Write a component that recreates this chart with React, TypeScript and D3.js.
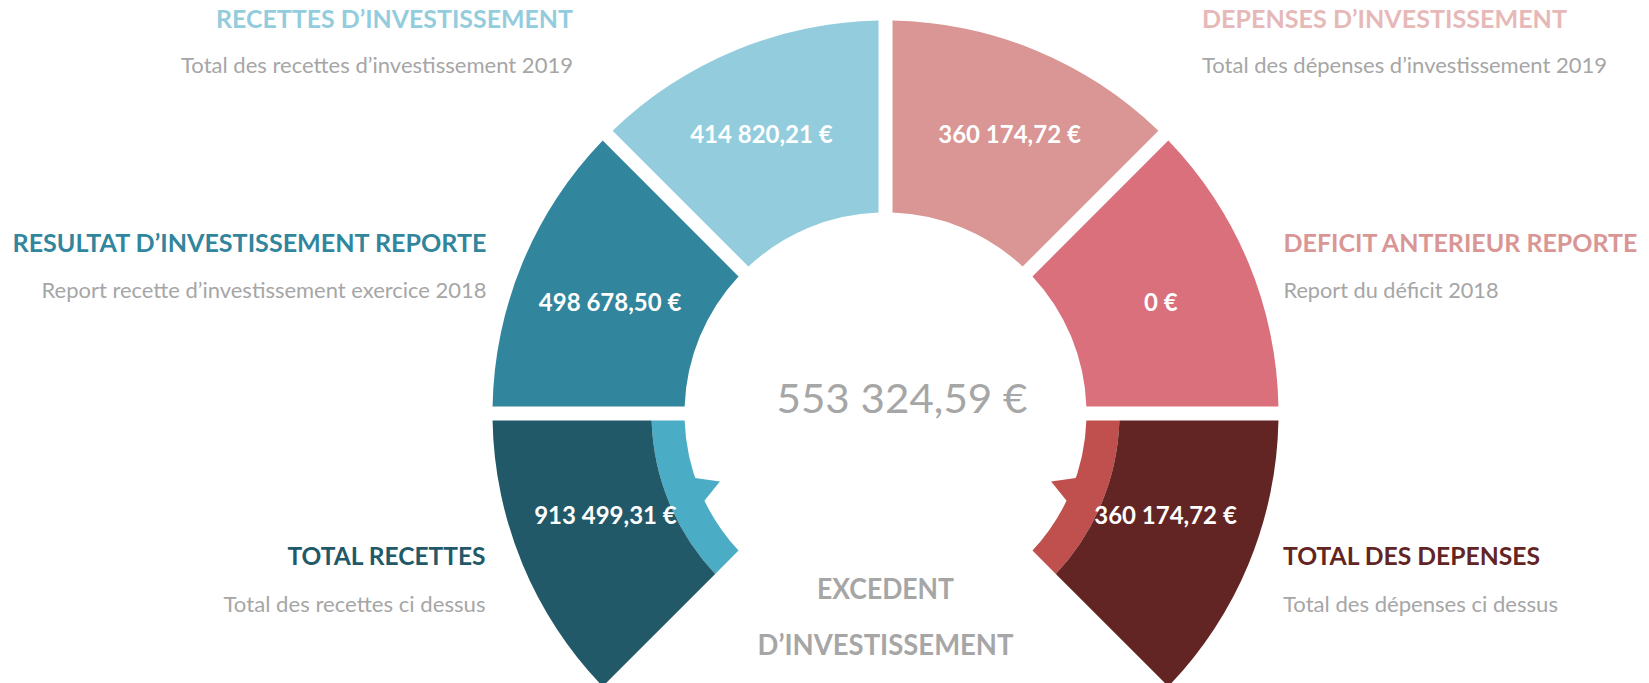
import React from "react";
import * as d3 from "d3";

// ---------- data ----------
const upperNames = [
  "RESULTAT D’INVESTISSEMENT REPORTE",
  "RECETTES D’INVESTISSEMENT",
  "DEPENSES D’INVESTISSEMENT",
  "DEFICIT ANTERIEUR REPORTE",
];
const upperNotes = [
  "Report recette d’investissement exercice 2018",
  "Total des recettes d’investissement 2019",
  "Total des dépenses d’investissement 2019",
  "Report du déficit 2018",
];
const upperValues = [498678.5, 414820.21, 360174.72, 0];

const totalNames = ["TOTAL RECETTES", "TOTAL DES DEPENSES"];
const totalNotes = ["Total des recettes ci dessus", "Total des dépenses ci dessus"];
const totalValues = [913499.31, 360174.72];

const resultLines = ["EXCEDENT", "D’INVESTISSEMENT"];
const resultValue = 553324.59;

// ---------- styles ----------
const upperFill = ["#31859C", "#93CDDD", "#D99694", "#D9707C"];
const upperTitleColor = ["#31859C", "#93CDDD", "#E6B9B8", "#D99694"];
const totalFill = ["#215968", "#632523"];
const bandFill = ["#4BACC6", "#C0504D"];
const grey = "#A6A6A6";
const FONT = "Lato, 'Open Sans', sans-serif";

const W = 1649;
const H = 683;
const cx = 885.5;
const cy = 413.5;
const R = 393;
const r0 = 201;
const rMid = 234;

const fr = d3.formatLocale({
  decimal: ",",
  thousands: "\u00a0",
  grouping: [3],
  currency: ["", "\u00a0€"],
});
const fmt = (v: number) =>
  (Number.isInteger(v) ? fr.format("$,d")(v) : fr.format("$,.2f")(v));

const deg = Math.PI / 180;

export default function App() {
  const upperAngle = d3.scaleLinear().domain([0, upperValues.length]).range([-Math.PI / 2, Math.PI / 2]);
  // lower segments: left (225°..270°), right (90°..135°)
  const lowerStart = [225 * deg, 90 * deg];
  const lowerEnd = [270 * deg, 135 * deg];

  const pad = 2 * Math.asin(7 / R);
  const arc = d3.arc<any>().padRadius(R).padAngle(pad);

  const polar = (a: number, r: number): [number, number] => [
    cx + r * Math.sin(a),
    cy - r * Math.cos(a),
  ];
  const tr = `translate(${cx},${cy})`;

  // text layout (anchor, x, title baseline, note baseline, title width, note width)
  const upperText = [
    { anchor: "end", x: cx - 399, ty: 252, ny: 298, tw: 474, nw: 445 },
    { anchor: "end", x: cx - 312.5, ty: 28, ny: 73, tw: 357, nw: 392 },
    { anchor: "start", x: cx + 316.5, ty: 28, ny: 73, tw: 365, nw: 405 },
    { anchor: "start", x: cx + 398, ty: 252, ny: 298, tw: 354, nw: 215 },
  ];
  const totalText = [
    { anchor: "end", x: cx - 400, ty: 565, ny: 612, tw: 198, nw: 262 },
    { anchor: "start", x: cx + 397.5, ty: 565, ny: 612, tw: 257, nw: 275 },
  ];

  // barb of the circular arrow (angle below horizontal, radius)
  const barb = [
    [18.7, 212],
    [18.7, 201],
    [22.3, 179],
    [25.7, 201],
    [25.7, 212],
  ];
  const barbAngle = [
    (t: number) => (270 - t) * deg,
    (t: number) => (90 + t) * deg,
  ];

  return (
    <svg
      width={W}
      height={H}
      style={{ position: "absolute", left: 0, top: 0, background: "#fff" }}
      fontFamily={FONT}
    >
      {/* upper segments */}
      {upperValues.map((v, i) => {
        const a0 = upperAngle(i);
        const a1 = upperAngle(i + 1);
        const m = (a0 + a1) / 2;
        const top = Math.abs(m) < Math.PI / 4;
        const la = m + Math.sign(m) * (top ? 1.5 : 0.5) * deg;
        const [lx, ly] = polar(la, top ? 305 : 297);
        return (
          <g key={"u" + i}>
            <path
              transform={tr}
              d={arc({ innerRadius: r0, outerRadius: R, startAngle: a0, endAngle: a1 }) as string}
              fill={upperFill[i]}
            />
            <text x={lx} y={ly} dy="0.35em" textAnchor="middle" fill="#fff" fontWeight={700} fontSize={24}>
              {fmt(v)}
            </text>
          </g>
        );
      })}

      {/* lower segments with arrow bands */}
      {totalValues.map((v, i) => {
        const a0 = lowerStart[i];
        const a1 = lowerEnd[i];
        const pts = barb.map(([t, r]) => polar(barbAngle[i](t), r));
        const lt = i === 0 ? (270 - 20) * deg : (90 + 20) * deg;
        const [lx, ly] = polar(lt, 298);
        return (
          <g key={"l" + i}>
            <path
              transform={tr}
              d={arc({ innerRadius: r0, outerRadius: rMid, startAngle: a0, endAngle: a1 }) as string}
              fill={bandFill[i]}
            />
            <path d={"M" + pts.map((p) => p.join(",")).join("L") + "Z"} fill={bandFill[i]} />
            <path
              transform={tr}
              d={arc({ innerRadius: rMid, outerRadius: R, startAngle: a0, endAngle: a1 }) as string}
              fill={totalFill[i]}
            />
            <text x={lx} y={ly} dy="0.35em" textAnchor="middle" fill="#fff" fontWeight={700} fontSize={24}>
              {fmt(v)}
            </text>
          </g>
        );
      })}

      {/* side titles */}
      {upperNames.map((n, i) => {
        const t = upperText[i];
        return (
          <g key={"ut" + i}>
            <text x={t.x} y={t.ty} textAnchor={t.anchor} fill={upperTitleColor[i]} fontWeight={700} fontSize={25}
              textLength={t.tw} lengthAdjust="spacingAndGlyphs">
              {n}
            </text>
            <text x={t.x} y={t.ny} textAnchor={t.anchor} fill={grey} fontSize={21}
              textLength={t.nw} lengthAdjust="spacingAndGlyphs">
              {upperNotes[i]}
            </text>
          </g>
        );
      })}
      {totalNames.map((n, i) => {
        const t = totalText[i];
        return (
          <g key={"tt" + i}>
            <text x={t.x} y={t.ty} textAnchor={t.anchor} fill={totalFill[i]} fontWeight={700} fontSize={25}
              textLength={t.tw} lengthAdjust="spacingAndGlyphs">
              {n}
            </text>
            <text x={t.x} y={t.ny} textAnchor={t.anchor} fill={grey} fontSize={21}
              textLength={t.nw} lengthAdjust="spacingAndGlyphs">
              {totalNotes[i]}
            </text>
          </g>
        );
      })}

      {/* centre result */}
      <text x={cx + 16.5} y={413} textAnchor="middle" fill={grey} fontSize={40}
        textLength={251} lengthAdjust="spacingAndGlyphs">
        {fmt(resultValue)}
      </text>
      {resultLines.map((l, i) => (
        <text key={"r" + i} x={cx} y={599 + i * 56} textAnchor="middle" fill={grey} fontWeight={700} fontSize={29}
          textLength={i === 0 ? 137 : 256} lengthAdjust="spacingAndGlyphs">
          {l}
        </text>
      ))}
    </svg>
  );
}
